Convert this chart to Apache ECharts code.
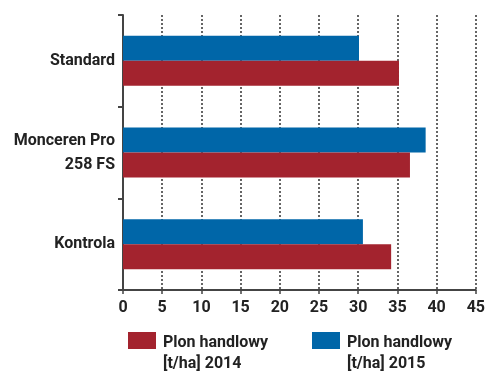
<!DOCTYPE html>
<html><head><meta charset="utf-8">
<script src="https://cdn.jsdelivr.net/npm/echarts@6/dist/echarts.min.js"></script>
<style>html,body{margin:0;padding:0;background:#fff}#c{width:488px;height:372px}</style>
</head><body><div id="c"></div>
<script>
const categories = ["Standard", "Monceren Pro\n258 FS", "Kontrola"];
const values2015 = [30.1, 38.6, 30.6];
const values2014 = [35.2, 36.6, 34.2];
const seriesNames = ["Plon handlowy\n[t/ha] 2014", "Plon handlowy\n[t/ha] 2015"];
const xTicks = [0, 5, 10, 15, 20, 25, 30, 35, 40, 45];
const colors = ['#A3232E', '#0066A8'];

const FONT = "Roboto, 'Liberation Sans', sans-serif";
const chart = echarts.init(document.getElementById('c'));

function legendItem(x, name, color) {
  return [
    { type: 'rect', left: x, top: 332, shape: { width: 28, height: 17 }, style: { fill: color } },
    { type: 'text', left: x + 35, top: 332,
      style: { text: name, fill: '#222', font: "bold 16px " + FONT, lineHeight: 21 } }
  ];
}

chart.setOption({
  animation: false,
  grid: { left: 123, right: 11, top: 15, bottom: 82, containLabel: false },
  xAxis: {
    type: 'value', min: xTicks[0], max: xTicks[xTicks.length - 1], interval: 5,
    axisLine: { show: true, lineStyle: { color: '#444', width: 2 } },
    axisTick: { show: true, length: 4, inside: false, lineStyle: { color: '#444', width: 1.5 } },
    axisLabel: { color: '#222', fontFamily: FONT, fontWeight: 'bold', fontSize: 16, margin: 10 },
    splitLine: { show: true, lineStyle: { color: '#333', type: [2, 2], width: 1.5 } }
  },
  yAxis: {
    type: 'category', data: categories, inverse: true,
    axisLine: { show: true, lineStyle: { color: '#444', width: 2 } },
    axisTick: { show: true, length: 5, lineStyle: { color: '#444', width: 2 } },
    axisLabel: { color: '#222', fontFamily: FONT, fontWeight: 'bold', fontSize: 16, margin: 8, lineHeight: 24, align: 'right' },
    splitLine: { show: false }
  },
  graphic: [].concat(legendItem(128, seriesNames[0], colors[0]), legendItem(312, seriesNames[1], colors[1])),
  series: [
    { name: seriesNames[1], type: 'bar', data: values2015, barWidth: 25, barGap: '0%',
      itemStyle: { color: colors[1] }, z: 3 },
    { name: seriesNames[0], type: 'bar', data: values2014, barWidth: 25, barGap: '0%',
      itemStyle: { color: colors[0] }, z: 3 }
  ]
});
</script></body></html>
